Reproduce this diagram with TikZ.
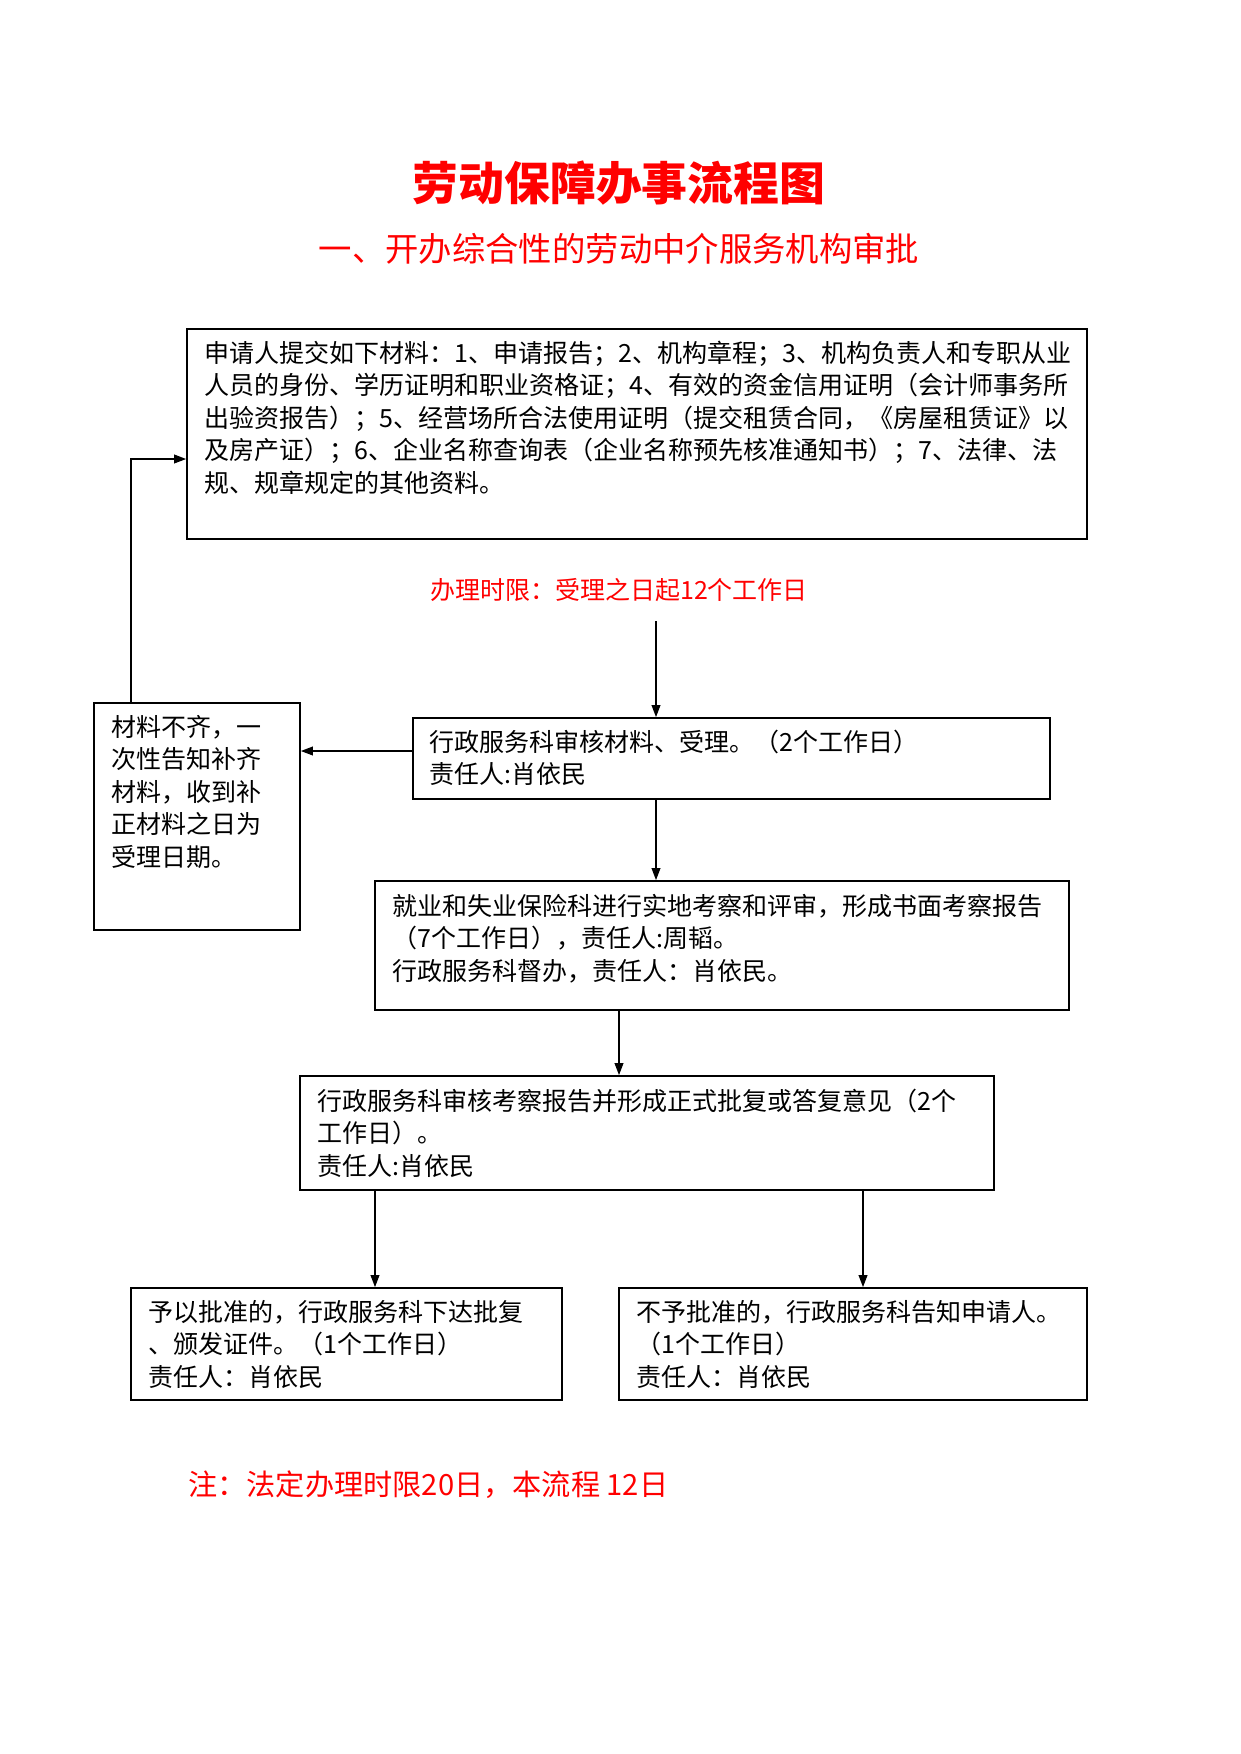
\documentclass[tikz,border=0pt]{standalone}
\usepackage{fontspec}
\setmainfont{Noto Sans CJK SC}
\usepackage{tikz}
\usetikzlibrary{
  arrows.meta,
  positioning,
  fit
}
\definecolor{titlered}{RGB}{255, 0, 0}
\definecolor{boxline}{RGB}{0, 0, 0}
\tikzset{
  % Ramkalar
  stepbox/.style   = {draw=boxline, line width=0.8pt, inner sep=0pt},
  % Matn (base west = oxirgi qator)
  boxtext/.style   = {anchor=base west, inner sep=0pt, align=left,
                      font=\fontsize{12}{15.6}\selectfont},
  redtext/.style   = {inner sep=0pt, text=titlered},
  % Strelkalar
  flowarrow/.style = {-{Triangle[length=5.8pt, width=4.2pt]}, line width=0.7pt},
}

\begin{document}
\begin{tikzpicture}[x=0.4797pt, y=-0.4797pt]
  \useasboundingbox (0,0) rectangle (1241,1754);
  % Sarlavha
  \node[redtext, anchor=base, font=\fontsize{22}{26}\selectfont\bfseries] (title) at (619,200) {劳动保障办事流程图};
  \node[redtext, anchor=base, font=\fontsize{16}{19}\selectfont] (subtitle) at (619,261) {一、开办综合性的劳动中介服务机构审批};
  % Ramkalar
  \node[stepbox, fit={(187,329) (1087,539)}] (b1) {};
  \node[stepbox, fit={(413,718) (1050,799)}] (b2) {};
  \node[stepbox, fit={(94,703) (300,930)}]   (bl) {};
  \node[stepbox, fit={(375,881) (1069,1010)}] (b3) {};
  \node[stepbox, fit={(300,1076) (994,1190)}] (b4) {};
  \node[stepbox, fit={(131,1288) (562,1400)}] (b5) {};
  \node[stepbox, fit={(619,1288) (1087,1400)}] (b6) {};
  % Ramka ichidagi matnlar
  \node[boxtext] (t1) at ([shift={(18,164)}]b1.north west)
    {申请人提交如下材料：1、申请报告；2、机构章程；3、机构负责人和专职从业\\
     人员的身份、学历证明和职业资格证；4、有效的资金信用证明（会计师事务所\\
     出验资报告）；5、经营场所合法使用证明（提交租赁合同，《房屋租赁证》以\\
     及房产证）；6、企业名称查询表（企业名称预先核准通知书）；7、法律、法\\
     规、规章规定的其他资料。};
  \node[redtext, anchor=base, font=\fontsize{12}{15.6}\selectfont] (lim) at (619,599) {办理时限：受理之日起12个工作日};
  \node[boxtext] (t2) at ([shift={(17,66.5)}]b2.north west)
    {行政服务科审核材料、受理。（2个工作日）\\
     责任人:肖依民};
  \node[boxtext] (tl) at ([shift={(18,164)}]bl.north west)
    {材料不齐，一\\次性告知补齐\\材料，收到补\\正材料之日为\\受理日期。};
  \node[boxtext] (t3) at ([shift={(18,100)}]b3.north west)
    {就业和失业保险科进行实地考察和评审，形成书面考察报告\\
     （7个工作日），责任人:周韬。\\
     行政服务科督办，责任人：肖依民。};
  \node[boxtext] (t4) at ([shift={(18,100)}]b4.north west)
    {行政服务科审核考察报告并形成正式批复或答复意见（2个\\
     工作日）。\\
     责任人:肖依民};
  \node[boxtext] (t5) at ([shift={(18,99)}]b5.north west)
    {予以批准的，行政服务科下达批复\\
     、颁发证件。（1个工作日）\\
     责任人：肖依民};
  \node[boxtext] (t6) at ([shift={(18,99)}]b6.north west)
    {不予批准的，行政服务科告知申请人。\\
     （1个工作日）\\
     责任人：肖依民};
  % Izoh
  \node[redtext, anchor=base west, font=\fontsize{14}{17}\selectfont] (note) at (188,1495) {注：法定办理时限20日，本流程 12日};
  % Strelkalar
  \coordinate (a0) at (656,621);
  \coordinate (a1) at (619,0);
  \coordinate (a2) at (375,0);
  \coordinate (a3) at (863,0);
  \coordinate (a4) at (0,751);
  \coordinate (a5) at (131,459);
  \draw[flowarrow] (a0) -- (a0 |- b2.north);
  \draw[flowarrow] (a0 |- b2.south) -- (a0 |- b3.north);
  \draw[flowarrow] (a1 |- b3.south) -- (a1 |- b4.north);
  \draw[flowarrow] (a2 |- b4.south) -- (a2 |- b5.north);
  \draw[flowarrow] (a3 |- b4.south) -- (a3 |- b6.north);
  \draw[flowarrow] (a4 -| b2.west) -- (a4 -| bl.east);
  \draw[flowarrow] (a5 |- bl.north) -- (a5) -- (a5 -| b1.west);
\end{tikzpicture}
\end{document}
